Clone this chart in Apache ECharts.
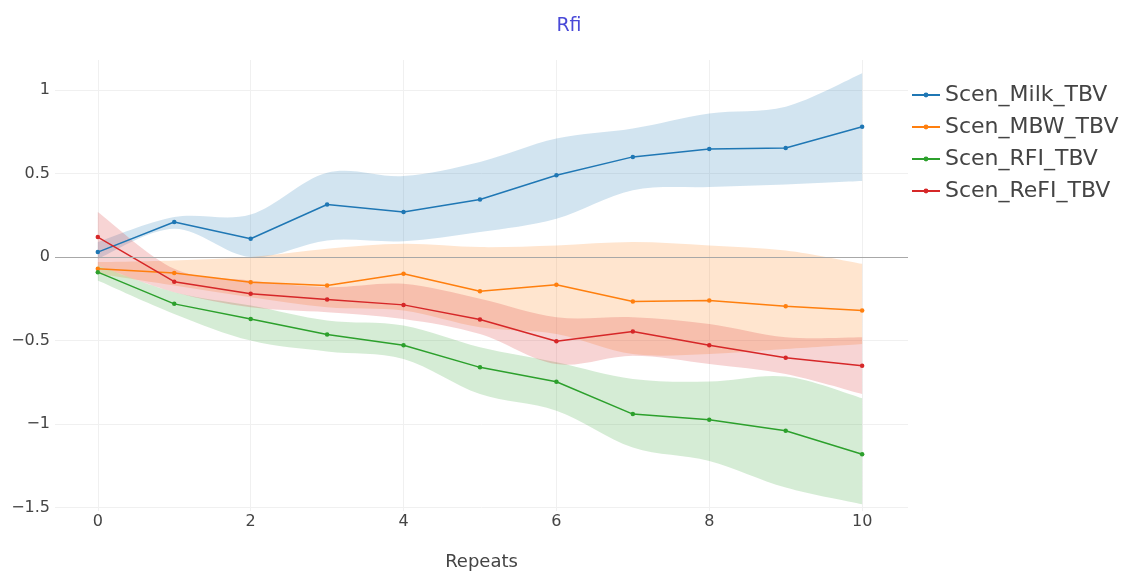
<!DOCTYPE html>
<html>
<head>
<meta charset="utf-8">
<title>Rfi</title>
<script src="https://cdn.jsdelivr.net/npm/echarts@6/dist/echarts.min.js"></script>
<style>
  html, body { margin: 0; padding: 0; background: #fff; }
  #chart { width: 1138px; height: 576px; }
</style>
</head>
<body>
<div id="chart"></div>
<script>
// Repeats on the x axis
const repeats = [0, 1, 2, 3, 4, 5, 6, 7, 8, 9, 10];
const xTicks = [0, 2, 4, 6, 8, 10];
const yTicks = [-1.5, -1, -0.5, 0, 0.5, 1];

// Mean response per scenario
const milk = [0.03, 0.21, 0.11, 0.315, 0.27, 0.345, 0.49, 0.60, 0.647, 0.653, 0.78];
const mbw  = [-0.07, -0.095, -0.15, -0.17, -0.10, -0.204, -0.165, -0.266, -0.26, -0.294, -0.32];
const rfi  = [-0.09, -0.28, -0.37, -0.464, -0.528, -0.66, -0.746, -0.94, -0.974, -1.04, -1.18];
const refi = [0.12, -0.147, -0.22, -0.254, -0.286, -0.373, -0.504, -0.445, -0.528, -0.603, -0.65];

// Lower / upper limits of the shaded bands
const milkLow  = [-0.01, 0.17, 0.0, 0.10, 0.095, 0.15, 0.23, 0.40, 0.42, 0.435, 0.455];
const milkHigh = [0.09, 0.24, 0.255, 0.505, 0.485, 0.57, 0.71, 0.77, 0.86, 0.90, 1.10];
const mbwLow   = [-0.10, -0.17, -0.24, -0.30, -0.32, -0.42, -0.46, -0.58, -0.58, -0.55, -0.52];
const mbwHigh  = [-0.03, -0.02, 0.0, 0.05, 0.08, 0.06, 0.07, 0.09, 0.07, 0.04, -0.04];
const rfiLow   = [-0.14, -0.34, -0.50, -0.565, -0.61, -0.82, -0.92, -1.14, -1.22, -1.38, -1.48];
const rfiHigh  = [-0.05, -0.21, -0.29, -0.38, -0.41, -0.54, -0.63, -0.73, -0.745, -0.715, -0.845];
const refiLow  = [-0.05, -0.21, -0.30, -0.33, -0.37, -0.46, -0.64, -0.59, -0.64, -0.70, -0.82];
const refiHigh = [0.27, -0.07, -0.14, -0.18, -0.16, -0.25, -0.36, -0.36, -0.40, -0.48, -0.48];

const names  = ['Scen_Milk_TBV', 'Scen_MBW_TBV', 'Scen_RFI_TBV', 'Scen_ReFI_TBV'];
const colors = ['#1f77b4', '#ff7f0e', '#2ca02c', '#d62728'];
const fills  = ['rgba(31,119,180,0.2)', 'rgba(255,127,14,0.2)', 'rgba(44,160,44,0.2)', 'rgba(214,39,40,0.2)'];
const means  = [milk, mbw, rfi, refi];
const lows   = [milkLow, mbwLow, rfiLow, refiLow];
const highs  = [milkHigh, mbwHigh, rfiHigh, refiHigh];

const FONT = 'DejaVu Sans, Verdana, sans-serif';

const pairs = (xs, ys) => xs.map((x, i) => [x, ys[i]]);

// Smooth cubic path through pixel points (Catmull-Rom style control points)
function splineSegments(pts, first) {
  let d = first ? 'M' + pts[0][0] + ',' + pts[0][1] : 'L' + pts[0][0] + ',' + pts[0][1];
  const s = 1 / 6;
  for (let i = 0; i < pts.length - 1; i++) {
    const p0 = pts[Math.max(i - 1, 0)];
    const p1 = pts[i];
    const p2 = pts[i + 1];
    const p3 = pts[Math.min(i + 2, pts.length - 1)];
    const c1 = [p1[0] + (p2[0] - p0[0]) * s, p1[1] + (p2[1] - p0[1]) * s];
    const c2 = [p2[0] - (p3[0] - p1[0]) * s, p2[1] - (p3[1] - p1[1]) * s];
    d += 'C' + c1[0] + ',' + c1[1] + ' ' + c2[0] + ',' + c2[1] + ' ' + p2[0] + ',' + p2[1];
  }
  return d;
}

const series = [];

// Shaded bands between lower and upper limits
names.forEach((name, k) => {
  series.push({
    type: 'custom',
    name: name + ' band',
    silent: true,
    z: 1,
    encode: { x: 0, y: [1, 2] },
    data: repeats.map((x, i) => [x, lows[k][i], highs[k][i]]),
    renderItem: function (params, api) {
      if (params.dataIndex !== 0) return null;
      const upper = repeats.map((x, i) => api.coord([x, highs[k][i]]));
      const lower = repeats.map((x, i) => api.coord([x, lows[k][i]])).reverse();
      const d = splineSegments(upper, true) + splineSegments(lower, false) + 'Z';
      return {
        type: 'path',
        shape: { pathData: d },
        style: { fill: fills[k], stroke: null }
      };
    }
  });
});

// Zero line
series.push({
  type: 'line',
  name: 'zero',
  data: [],
  silent: true,
  markLine: {
    silent: true,
    symbol: 'none',
    label: { show: false },
    lineStyle: { color: '#a8a8a8', width: 1.2, type: 'solid' },
    data: [{ yAxis: 0 }]
  },
  z: 2
});

// Mean lines with markers
names.forEach((name, k) => {
  series.push({
    type: 'line',
    name: name,
    data: pairs(repeats, means[k]),
    symbol: 'circle',
    symbolSize: 4.5,
    showSymbol: true,
    color: colors[k],
    lineStyle: { color: colors[k], width: 1.5 },
    itemStyle: { color: colors[k] },
    z: 3
  });
});

const option = {
  animation: false,
  backgroundColor: '#ffffff',
  title: {
    text: 'Rfi',
    left: 'center',
    top: 12,
    textStyle: { color: '#4a4ad8', fontSize: 19, fontWeight: 'normal', fontFamily: FONT }
  },
  legend: {
    data: names,
    orient: 'vertical',
    left: 906,
    top: 78,
    itemWidth: 28,
    itemHeight: 6,
    itemGap: 8,
    textStyle: { color: '#444', fontSize: 22, fontFamily: FONT, lineHeight: 24 }
  },
  grid: { left: 55, right: 230, top: 60, bottom: 64 },
  xAxis: {
    type: 'value',
    min: -0.56,
    max: 10.6,
    name: 'Repeats',
    nameLocation: 'middle',
    nameGap: 42,
    nameTextStyle: { color: '#444', fontSize: 18, fontFamily: FONT },
    axisLine: { show: false },
    axisTick: { show: false, customValues: xTicks },
    axisLabel: { customValues: xTicks, color: '#444', fontSize: 16, fontFamily: FONT, margin: 3 },
    splitLine: { show: true, lineStyle: { color: '#f0f0f0', width: 1 } }
  },
  yAxis: {
    type: 'value',
    min: -1.52,
    max: 1.18,
    axisLine: { show: false },
    axisTick: { show: false, customValues: yTicks },
    axisLabel: {
      customValues: yTicks,
      color: '#444',
      fontSize: 16,
      fontFamily: FONT,
      margin: 5,
      formatter: v => (v < 0 ? '\u2212' + String(-v) : String(v))
    },
    splitLine: { show: true, lineStyle: { color: '#f0f0f0', width: 1 } }
  },
  series: series
};

const chart = echarts.init(document.getElementById('chart'), null, { renderer: 'canvas' });
chart.setOption(option);
</script>
</body>
</html>
